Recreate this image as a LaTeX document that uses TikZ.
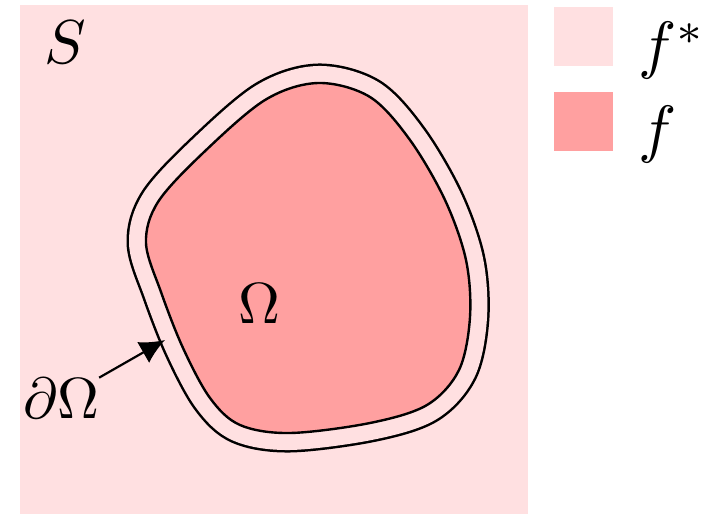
\documentclass[tikz,border=0pt]{standalone}
\usepackage{graphicx}
\usetikzlibrary{arrows.meta}
\definecolor{lightpk}{HTML}{FFE0E1}
\definecolor{darkpk}{HTML}{FFA0A0}
\begin{document}
\begin{tikzpicture}[x=1pt,y=-1pt,
  lbl/.style={inner sep=0pt},
  regionpath/.style={line join=round}]
\useasboundingbox (0,0) rectangle (704,514);
\fill[lightpk] (20,5) rectangle (528,514);
\fill[lightpk] (554,7) rectangle (613,66);
\fill[darkpk] (554,92) rectangle (613,151);
\def\regionpts{(318,83) (370,97) (410,140) (445,200) (466,260) (470,317) (459,370)
 (427,405) (370,423) (290,433) (240,425) (210,398) (183,348) (161,292) (146,243)
 (158,202) (203,153) (265,100)}
% outer boundary as offset of the region
\draw[regionpath,line width=39pt,black] plot[smooth cycle,tension=0.55] coordinates {\regionpts};
\draw[regionpath,line width=34pt,lightpk] plot[smooth cycle,tension=0.55] coordinates {\regionpts};
% inner region
\draw[regionpath,line width=2.4pt,fill=darkpk] plot[smooth cycle,tension=0.55] coordinates {\regionpts};
\node[lbl] (S) at (65,42) {\scalebox{6.2}{$S$}};
\node[lbl] (Om) at (259,304) {\scalebox{5.8}{$\Omega$}};
\node[lbl] (dOm) at (61,398) {\scalebox{5.8}{$\partial\Omega$}};
\node[lbl,anchor=base west] (fs) at (638,66) {\scalebox{6.4}{$f\raisebox{3.4pt}{$\scriptstyle *$}$}};
\node[lbl,anchor=base west] (f) at (638,150) {\scalebox{6.4}{$f$}};
\coordinate (tip) at (165,340);
\draw[line width=2.2pt,-{Latex[length=25pt,width=24pt]}] (dOm.north east) -- (tip);
\end{tikzpicture}
\end{document}
